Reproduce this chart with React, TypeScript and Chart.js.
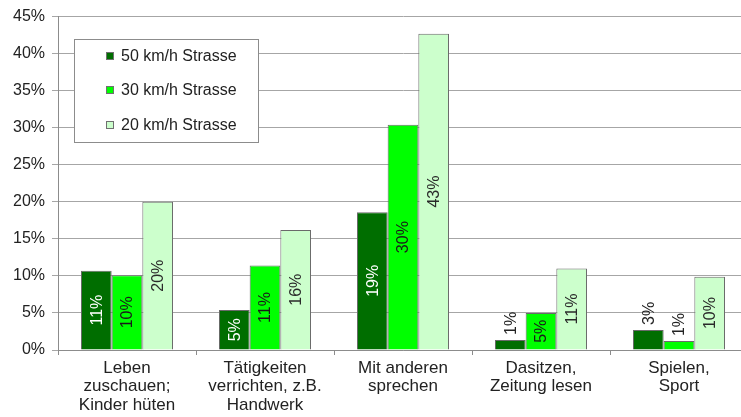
import { useEffect, useRef } from "react";
import { Chart, registerables } from "chart.js";

Chart.register(...registerables);

const FONT = '"Liberation Sans", Arial, Helvetica, sans-serif';

const categories: string[][] = [
  ["Leben", "zuschauen;", "Kinder hüten"],
  ["Tätigkeiten", "verrichten, z.B.", "Handwerk"],
  ["Mit anderen", "sprechen"],
  ["Dasitzen,", "Zeitung lesen"],
  ["Spielen,", "Sport"],
];

const seriesNames = ["50 km/h Strasse", "30 km/h Strasse", "20 km/h Strasse"];
const values50 = [10.7, 5.4, 18.6, 1.35, 2.7];
const values30 = [10.1, 11.4, 30.4, 5.0, 1.2];
const values20 = [20.0, 16.2, 42.7, 11.0, 9.9];
const seriesColors = ["#006e00", "#00ff00", "#ccffcc"];
const insideLabelColors = ["#ffffff", "#1a1a1a", "#2a2a2a"];

const yMin = 0;
const yMax = 45;
const yStep = 5;

const valueLabelPlugin = {
  id: "valueLabels",
  afterDatasetsDraw(chart: any) {
    const ctx = chart.ctx as CanvasRenderingContext2D;
    ctx.save();
    ctx.font = `16px ${FONT}`;
    ctx.textAlign = "center";
    ctx.textBaseline = "middle";
    chart.data.datasets.forEach((ds: any, di: number) => {
      const meta = chart.getDatasetMeta(di);
      meta.data.forEach((el: any, i: number) => {
        const v = ds.data[i] as number;
        const text = `${Math.round(v)}%`;
        const tw = ctx.measureText(text).width;
        const h = el.base - el.y;
        let cy: number;
        let color: string;
        if (h >= tw + 8) {
          cy = (el.y + el.base) / 2;
          color = insideLabelColors[di];
        } else {
          cy = el.y - 5 - tw / 2;
          color = "#222222";
        }
        ctx.save();
        ctx.translate(el.x, cy);
        ctx.rotate(-Math.PI / 2);
        ctx.fillStyle = color;
        ctx.fillText(text, 0, 1);
        ctx.restore();
      });
    });
    ctx.restore();
  },
};

const boxLegendPlugin = {
  id: "boxLegend",
  afterDraw(chart: any) {
    const ctx = chart.ctx as CanvasRenderingContext2D;
    const x0 = 74.5;
    const y0 = 39.5;
    const w = 184;
    const hgt = 103;
    ctx.save();
    ctx.fillStyle = "#ffffff";
    ctx.fillRect(x0, y0, w, hgt);
    ctx.strokeStyle = "#8c8c8c";
    ctx.lineWidth = 1;
    ctx.strokeRect(x0, y0, w, hgt);
    ctx.font = `16px ${FONT}`;
    ctx.textBaseline = "middle";
    ctx.textAlign = "left";
    chart.data.datasets.forEach((ds: any, i: number) => {
      const cy = 55.5 + i * 34.5;
      ctx.fillStyle = ds.backgroundColor;
      ctx.fillRect(106, Math.round(cy) - 4, 8, 8);
      ctx.strokeStyle = "#707070";
      ctx.strokeRect(106.5, Math.round(cy) - 3.5, 7, 7);
      ctx.fillStyle = "#222222";
      ctx.fillText(ds.label, 121, cy + 1);
    });
    ctx.restore();
  },
};

export default function App() {
  const ref = useRef<HTMLCanvasElement>(null);

  useEffect(() => {
    const chart = new Chart(ref.current as HTMLCanvasElement, {
      type: "bar",
      data: {
        labels: categories,
        datasets: [values50, values30, values20].map((d, i) => ({
          label: seriesNames[i],
          data: d,
          backgroundColor: seriesColors[i],
          borderColor: "#6a6a6a",
          borderWidth: 1,
          borderSkipped: "bottom",
          categoryPercentage: 0.667,
          barPercentage: 1.0,
        })),
      },
      options: {
        animation: false,
        responsive: true,
        maintainAspectRatio: false,
        layout: { padding: { top: 16, right: 2, left: 0, bottom: 0 } },
        plugins: {
          legend: { display: false },
          tooltip: { enabled: false },
        },
        scales: {
          x: {
            offset: true,
            grid: {
              display: true,
              offset: true,
              drawOnChartArea: false,
              drawTicks: true,
              tickLength: 5,
              color: "#8c8c8c",
            },
            border: { display: true, color: "#8c8c8c" },
            ticks: {
              color: "#222222",
              font: { family: FONT, size: 17, lineHeight: "18.5px" },
              padding: 4,
              maxRotation: 0,
              autoSkip: false,
            },
            afterFit(scale: any) {
              scale.height = 67;
            },
          },
          y: {
            min: yMin,
            max: yMax,
            grid: {
              color: "#a6a6a6",
              tickLength: 6,
              drawTicks: true,
            },
            border: { display: true, color: "#8c8c8c" },
            ticks: {
              stepSize: yStep,
              color: "#222222",
              font: { family: FONT, size: 16 },
              padding: 7,
              callback: (v: any) => `${v}%`,
            },
            afterFit(scale: any) {
              scale.width = 58;
            },
          },
        },
      },
      plugins: [valueLabelPlugin, boxLegendPlugin],
    });
    return () => chart.destroy();
  }, []);

  return (
    <div
      style={{
        position: "fixed",
        left: 0,
        top: 0,
        width: 741,
        height: 417,
        overflow: "hidden",
        background: "#ffffff",
      }}
    >
      <div style={{ position: "relative", width: 750, height: 417 }}>
        <canvas ref={ref} />
      </div>
    </div>
  );
}
